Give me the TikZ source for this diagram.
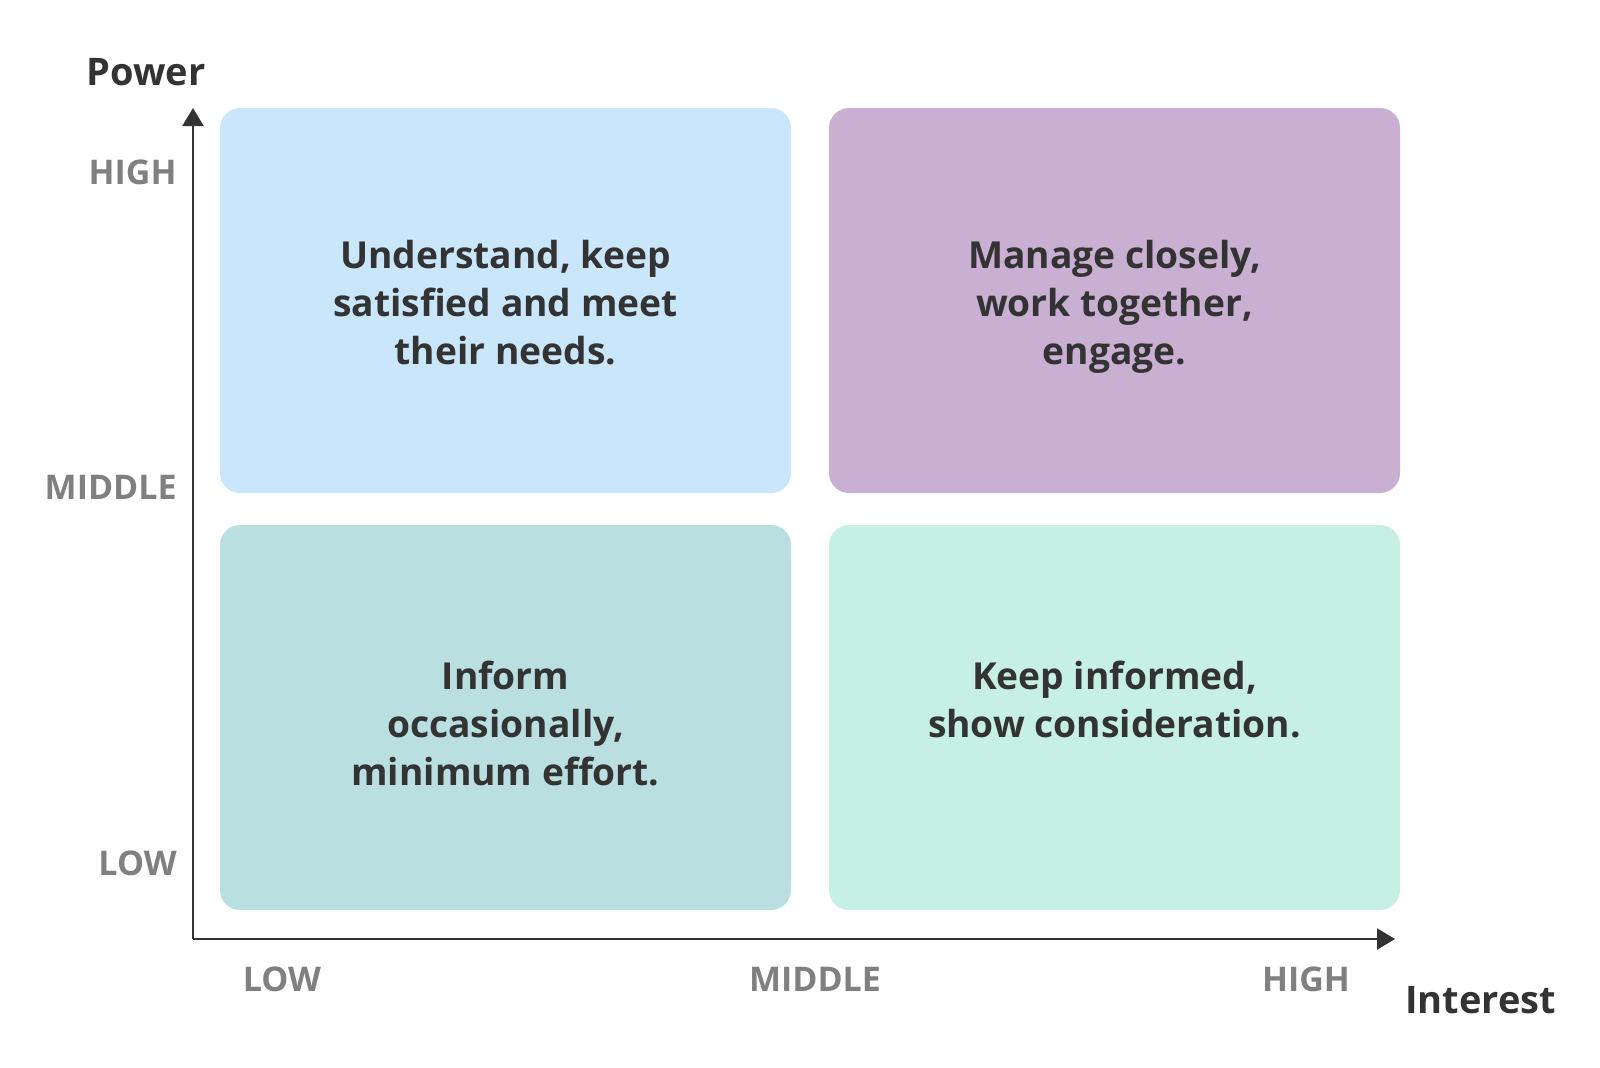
\documentclass[tikz,border=0pt]{standalone}
\usepackage{fontspec}
\setmainfont{Open Sans}
\usetikzlibrary{arrows.meta}
\definecolor{boxtl}{RGB}{201,230,251}
\definecolor{boxtr}{RGB}{201,175,209}
\definecolor{boxbl}{RGB}{185,223,224}
\definecolor{boxbr}{RGB}{199,240,228}
\definecolor{darktext}{RGB}{51,51,51}
\definecolor{graytext}{RGB}{128,128,128}
\tikzset{
  quad/.style={rectangle, rounded corners=10pt, draw=none, inner sep=0pt,
    minimum width=285.5pt, minimum height=192.5pt},
  boxtext/.style={align=center, inner sep=0pt, anchor=base, text=darktext,
    font=\fontsize{18.6}{24}\selectfont\bfseries},
  level/.style={inner sep=0pt, anchor=base, text=graytext,
    font=\fontsize{17}{20}\selectfont\bfseries},
  axistitle/.style={inner sep=0pt, anchor=base west, text=darktext,
    font=\fontsize{19}{22}\selectfont\bfseries},
  axisline/.style={draw=darktext, line width=1.1pt,
    -{Triangle[width=10.5pt,length=9pt]}}
}
\begin{document}
\begin{tikzpicture}[x=0.5pt,y=-0.5pt]
\useasboundingbox (0,0) rectangle (1600,1067);
% quadrants
\node[quad, fill=boxtl] (tl) at (505.5,300.5) {};
\node[quad, fill=boxtr] (tr) at (1114.5,300.5) {};
\node[quad, fill=boxbl] (bl) at (505.5,717.5) {};
\node[quad, fill=boxbr] (br) at (1114.5,717.5) {};
% quadrant texts (base anchor = baseline of last line)
\node[boxtext] (tltext) at (505.5,364) {Understand, keep\\satisfied and meet\\their needs.};
\node[boxtext] (trtext) at (1114.5,364) {Manage closely,\\work together,\\engage.};
\node[boxtext] (bltext) at (505.5,785) {Inform\\occasionally,\\minimum effort.};
\node[boxtext] (brtext) at (1114.5,737) {Keep informed,\\show consideration.};
% axes
\coordinate (origin) at (193,939);
\coordinate (ytip) at (193,108);
\coordinate (xtip) at (1395,939);
\draw[axisline] (origin) -- (ytip);
\draw[axisline] (origin) -- (xtip);
% axis titles
\node[axistitle] (power) at (86,85) {Power};
\node[axistitle] (interest) at (1405,1013) {Interest};
% y levels
\node[level, anchor=base east] (yhigh) at (177,184) {HIGH};
\node[level, anchor=base east] (ymid) at (177,499) {MIDDLE};
\node[level, anchor=base east] (ylow) at (177,875) {LOW};
% x levels
\node[level] (xlow) at (282,991) {LOW};
\node[level] (xmid) at (815,991) {MIDDLE};
\node[level] (xhigh) at (1306,991) {HIGH};
\end{tikzpicture}
\end{document}
